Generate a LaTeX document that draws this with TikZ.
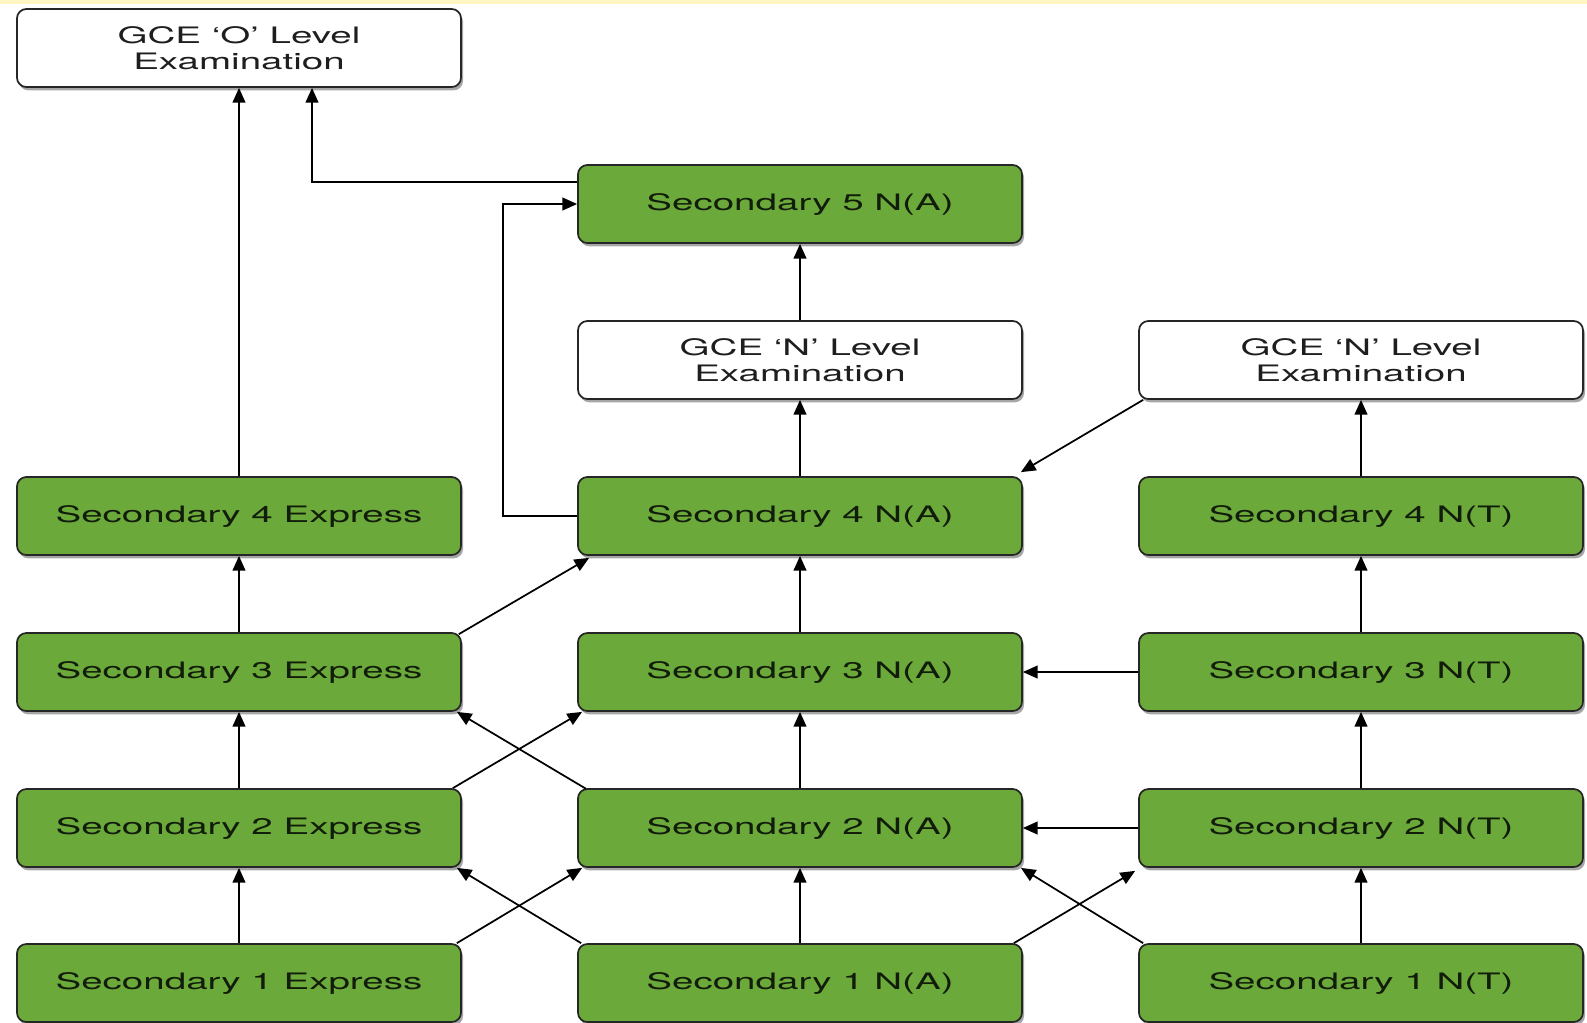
\documentclass[tikz,border=0pt]{standalone}
\usepackage{fontspec}
\setmainfont{TeX Gyre Heros}[FakeStretch=1.7]
\usetikzlibrary{arrows.meta,shadows,calc}
\definecolor{boxgreen}{RGB}{107,170,58}
\definecolor{topstrip}{RGB}{255,246,196}
\definecolor{gtext}{RGB}{18,28,10}
\definecolor{wtext}{RGB}{30,30,30}
\begin{document}
\begin{tikzpicture}[x=0.75pt,y=-0.75pt,
  box/.style={rectangle, rounded corners=7pt, draw=black!85, line width=1.3pt,
    minimum width=333pt, minimum height=58.5pt, inner sep=0pt,
    font=\fontsize{17}{19.5}\selectfont, align=center,
    drop shadow={shadow xshift=1.5pt, shadow yshift=-2.5pt, opacity=0.35, fill=black}},
  gbox/.style={box, fill=boxgreen, text=gtext},
  wbox/.style={box, fill=white, text=wtext},
  arr/.style={-{Triangle[length=11pt,width=9.5pt]}, line width=1.3pt, draw=black}]
\useasboundingbox (0,0) rectangle (1587,1022);
\fill[topstrip] (0,0) rectangle (1587,4);
% nodes
\node[wbox] (gO)  at (239,48)  {GCE ‘O’ Level\\Examination};
\node[gbox] (s5)  at (800,204) {Secondary 5 N(A)};
\node[wbox] (gN1) at (800,360) {GCE ‘N’ Level\\Examination};
\node[wbox] (gN2) at (1361,360) {GCE ‘N’ Level\\Examination};
\node[gbox] (s4e) at (239,516) {Secondary 4 Express};
\node[gbox] (s4a) at (800,516) {Secondary 4 N(A)};
\node[gbox] (s4t) at (1361,516) {Secondary 4 N(T)};
\node[gbox] (s3e) at (239,672) {Secondary 3 Express};
\node[gbox] (s3a) at (800,672) {Secondary 3 N(A)};
\node[gbox] (s3t) at (1361,672) {Secondary 3 N(T)};
\node[gbox] (s2e) at (239,828) {Secondary 2 Express};
\node[gbox] (s2a) at (800,828) {Secondary 2 N(A)};
\node[gbox] (s2t) at (1361,828) {Secondary 2 N(T)};
\node[gbox] (s1e) at (239,983) {Secondary 1 Express};
\node[gbox] (s1a) at (800,983) {Secondary 1 N(A)};
\node[gbox] (s1t) at (1361,983) {Secondary 1 N(T)};
% vertical connectors
\draw[arr] (s4e.north) -- (gO.south);
\draw[arr] (gN1.north) -- (s5.south);
\draw[arr] (s4a.north) -- (gN1.south);
\draw[arr] (s4t.north) -- (gN2.south);
\foreach \a/\b in {s3e/s4e,s3a/s4a,s3t/s4t,s2e/s3e,s2a/s3a,s2t/s3t,s1e/s2e,s1a/s2a,s1t/s2t}
  \draw[arr] (\a.north) -- (\b.south);
% horizontal connectors
\draw[arr] (s3t.west) -- (s3a.east);
\draw[arr] (s2t.west) -- (s2a.east);
% elbow connectors
\draw[arr] ($(s5.west)+(0,-22)$) -| ($(gO.south)+(73,0)$);
\draw[arr] (s4a.west) -- ++(-74,0) |- (s5.west);
% diagonal connectors
\draw[arr] ($(s3e.north east)+(-3,2)$) -- ($(s4a.south west)+(12,2)$);
\draw[arr] ($(s2e.north east)+(-9,0)$) -- ($(s3a.south west)+(5,0)$);
\draw[arr] ($(s2a.south west)+(9,-79)$) -- ($(s3e.south east)+(-5,0)$);
\draw[arr] ($(s1e.north east)+(-5,0)$) -- ($(s2a.south west)+(5,0)$);
\draw[arr] ($(s1a.north west)+(4,0)$) -- ($(s2e.south east)+(-5,0)$);
\draw[arr] ($(s1a.north east)+(-9,0)$) -- ($(s2t.south west)+(-3,3)$);
\draw[arr] ($(s1t.north west)+(5,0)$) -- ($(s2a.south east)+(-2,0)$);
\draw[arr] ($(gN2.south west)+(5,0)$) -- ($(s4a.north east)+(-2,-4)$);
\end{tikzpicture}
\end{document}
